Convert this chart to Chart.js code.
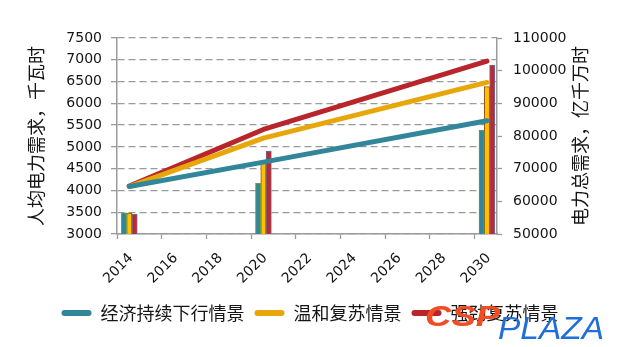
<!DOCTYPE html>
<html lang="zh-CN">
<head>
<meta charset="utf-8">
<title>电力需求情景</title>
<script src="https://cdn.jsdelivr.net/npm/chart.js@4.4.1/dist/chart.umd.min.js"></script>
<style>
  html, body { margin: 0; padding: 0; background: #fff; }
  #wrap { width: 620px; height: 347px; }
</style>
</head>
<body>
<div id="wrap"><canvas id="chart" width="620" height="347"></canvas></div>
<script>
const years = [2014, 2020, 2030];
const scenarios = ['经济持续下行情景', '温和复苏情景', '强劲复苏情景'];

// 人均电力需求（千瓦时）- lines, left axis
const perCapitaLow = [4090, 4650, 5600];
const perCapitaMid = [4090, 5200, 6480];
const perCapitaHigh = [4100, 5400, 6970];

// 电力总需求（亿千瓦时）- bars, right axis
const totalLow = [56500, 65500, 81800];
const totalMid = [56400, 72100, 95100];
const totalHigh = [56000, 75400, 101700];

const xTickYears = [2014, 2016, 2018, 2020, 2022, 2024, 2026, 2028, 2030];
const leftTicks = [3000, 3500, 4000, 4500, 5000, 5500, 6000, 6500, 7000, 7500];
const rightTicks = [50000, 60000, 70000, 80000, 90000, 100000, 110000];

const lineColors = ['#31869a', '#e7a70a', '#b8262c'];
const barColors = ['#31869a', '#ffc000', '#c0282e'];
const barBorders = ['#7a9a3c', '#9a5212', '#6470a8'];

const shift = 0.55; // marks sit a little right of the year tick, as in the original
const pts = (vals) => years.map((yr, i) => ({ x: yr + shift, y: vals[i] }));

const tickFont = { family: '"DejaVu Sans", sans-serif', size: 14 };
const cjkFont = { family: '"Noto Sans CJK SC", sans-serif', size: 18 };
const axisGray = '#9a9a9a';
const textColor = '#151515';

const lineSet = (label, vals, i) => ({
    type: 'line',
    label: label,
    data: pts(vals),
    yAxisID: 'y',
    borderColor: lineColors[i],
    backgroundColor: lineColors[i],
    borderWidth: 5,
    borderCapStyle: 'round',
    borderJoinStyle: 'round',
    pointRadius: 0,
    tension: 0,
    order: 0,
});

const barSet = (label, vals, i) => ({
    type: 'bar',
    label: label,
    data: pts(vals),
    yAxisID: 'y1',
    backgroundColor: barColors[i],
    borderColor: barBorders[i],
    borderWidth: 1,
    barThickness: 5.3,
    order: 1,
});

// right axis title reads bottom-to-top, plus the site watermark
const extraText = {
    id: 'extraText',
    afterDraw(chart) {
        const ctx = chart.ctx;
        const area = chart.chartArea;
        const right = chart.scales.y1;
        ctx.save();
        ctx.translate(right.right - 40, (area.top + area.bottom) / 2);
        ctx.rotate(-Math.PI / 2);
        ctx.font = '18px "Noto Sans CJK SC"';
        ctx.fillStyle = textColor;
        ctx.textAlign = 'center';
        ctx.textBaseline = 'middle';
        ctx.fillText('电力总需求，亿千万时', 0, 0);
        ctx.restore();

        ctx.save();
        ctx.textBaseline = 'alphabetic';
        ctx.textAlign = 'left';
        ctx.translate(chart.width - 195, chart.height - 21);
        ctx.scale(1.22, 1);
        ctx.font = 'italic bold 30px "Liberation Sans"';
        ctx.fillStyle = '#f04d25';
        ctx.fillText('CSP', 0, 0);
        ctx.restore();

        ctx.save();
        ctx.translate(chart.width - 122, chart.height - 17);
        ctx.scale(1.08, 1);
        ctx.font = 'italic 31px "Liberation Sans"';
        ctx.fillStyle = '#1f6fd6';
        ctx.fillText('PLAZA', 0, 0);
        ctx.restore();
    }
};

const ctx = document.getElementById('chart').getContext('2d');
new Chart(ctx, {
    type: 'bar',
    data: {
        datasets: [
            lineSet(scenarios[0], perCapitaLow, 0),
            lineSet(scenarios[1], perCapitaMid, 1),
            lineSet(scenarios[2], perCapitaHigh, 2),
            barSet(scenarios[0], totalLow, 0),
            barSet(scenarios[1], totalMid, 1),
            barSet(scenarios[2], totalHigh, 2),
        ]
    },
    options: {
        responsive: false,
        animation: false,
        layout: { padding: { top: 38, bottom: 15, left: 0, right: 0 } },
        scales: {
            x: {
                type: 'linear',
                min: 2014,
                max: 2031,
                offset: false,
                afterBuildTicks: (s) => { s.ticks = xTickYears.map(v => ({ value: v })); },
                afterFit: (s) => { s.height = 60; },
                grid: { offset: false, drawOnChartArea: false, tickLength: 5, tickColor: axisGray, tickWidth: 1.3 },
                border: { color: axisGray, width: 1.5 },
                ticks: {
                    font: tickFont,
                    color: textColor,
                    minRotation: 45,
                    maxRotation: 45,
                    labelOffset: 14,
                    padding: 11,
                    callback: (v) => String(v),
                }
            },
            y: {
                position: 'left',
                min: 3000,
                max: 7500,
                afterBuildTicks: (s) => { s.ticks = leftTicks.map(v => ({ value: v })); },
                afterFit: (s) => { s.width = 117; },
                grid: { color: axisGray, lineWidth: 1.3, tickLength: 6, tickColor: axisGray, tickWidth: 1.3, tickBorderDash: [] },
                border: { color: axisGray, width: 1.5, dash: [7, 4] },
                ticks: { font: tickFont, color: textColor, padding: 9, callback: (v) => String(v) },
                title: { display: true, text: '人均电力需求，千瓦时', font: cjkFont, color: textColor, padding: { top: 25, bottom: 0 } }
            },
            y1: {
                position: 'right',
                min: 50000,
                max: 110000,
                afterBuildTicks: (s) => { s.ticks = rightTicks.map(v => ({ value: v })); },
                afterFit: (s) => { s.width = 123; },
                grid: { drawOnChartArea: false, tickLength: 5, tickColor: axisGray, tickWidth: 1.3 },
                border: { color: axisGray, width: 1.5 },
                ticks: { font: tickFont, color: textColor, padding: 11, callback: (v) => String(v) }
            }
        },
        plugins: {
            tooltip: { enabled: false },
            legend: {
                position: 'bottom',
                labels: {
                    font: cjkFont,
                    color: textColor,
                    boxWidth: 30,
                    boxHeight: 6,
                    useBorderRadius: true,
                    borderRadius: 3,
                    padding: 10,
                    generateLabels: () => scenarios.map((name, i) => ({
                        text: name,
                        fillStyle: lineColors[i],
                        strokeStyle: lineColors[i],
                        lineWidth: 0,
                        borderRadius: 3,
                        fontColor: textColor,
                        hidden: false,
                        datasetIndex: i,
                    }))
                }
            }
        }
    },
    plugins: [extraText]
});
</script>
</body>
</html>
